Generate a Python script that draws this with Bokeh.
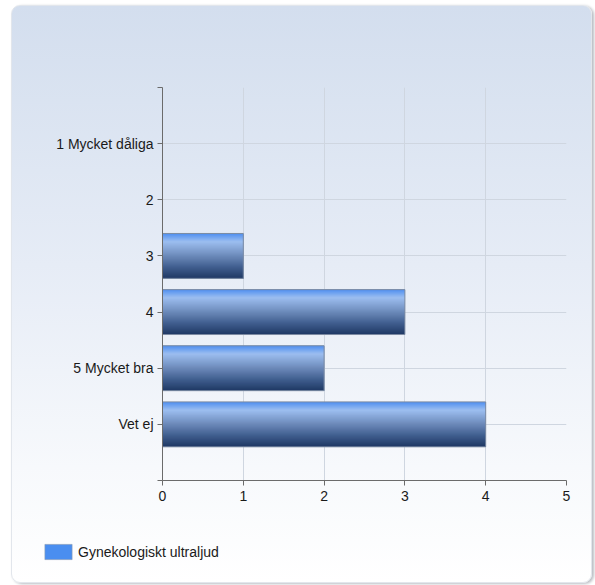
from bokeh.plotting import figure
from bokeh.layouts import column
from bokeh.models import Range1d, FixedTicker, Legend, LegendItem, ColumnDataSource
from bokeh.embed import file_html
from bokeh.resources import INLINE

categories = ["1 Mycket dåliga", "2", "3", "4", "5 Mycket bra", "Vet ej"]
values = [0, 0, 1, 3, 2, 4]
series_name = "Gynekologiskt ultraljud"
x_ticks = [0, 1, 2, 3, 4, 5]

FONT = "Liberation Sans"
FSIZE = "14px"
BAR_H = 0.8

p = figure(width=579, height=514, output_backend="svg", toolbar_location=None,
           x_range=Range1d(0, 5), y_range=Range1d(len(categories) + 1, 0),
           min_border_left=150, min_border_right=25, min_border_top=81, min_border_bottom=40)
p.border_fill_color = None
p.background_fill_color = None
p.outline_line_color = None

ypos = list(range(1, len(categories) + 1))

# base bars (legend renderer)
base_src = ColumnDataSource(dict(y=[y for y, v in zip(ypos, values) if v > 0],
                                 right=[v for v in values if v > 0]))
base = p.hbar(y="y", right="right", left=0, height=BAR_H, source=base_src,
              fill_color="#4a8ef0", line_color=None)

# gradient strips
def lerp(c1, c2, t):
    return tuple(int(round(a + (b - a) * t)) for a, b in zip(c1, c2))

stops = [(0.0, (78, 142, 240)), (0.18, (156, 190, 240)), (0.45, (116, 146, 194)),
         (0.75, (64, 94, 142)), (1.0, (30, 56, 100))]

def grad(t):
    for (t0, c0), (t1, c1) in zip(stops[:-1], stops[1:]):
        if t <= t1:
            return lerp(c0, c1, (t - t0) / (t1 - t0))
    return stops[-1][1]

N = 45
ql, qr, qt, qb, qc = [], [], [], [], []
for y, v in zip(ypos, values):
    if v <= 0:
        continue
    top = y - BAR_H / 2
    bot = y + BAR_H / 2
    step = BAR_H / N
    for i in range(N):
        t = (i + 0.5) / N
        ql.append(0)
        qr.append(v)
        qt.append(top + i * step)
        qb.append(min(bot, top + (i + 2.5) * step))
        r, g, b = grad(t)
        qc.append("#%02x%02x%02x" % (r, g, b))
p.quad(left=ql, right=qr, top=qt, bottom=qb, fill_color=qc, line_color=None)

# outline
p.hbar(y="y", right="right", left=0, height=BAR_H, source=base_src,
       fill_alpha=0, line_color="#7d8ca3", line_width=1)

# axes
p.xaxis.ticker = FixedTicker(ticks=x_ticks)
p.yaxis.ticker = FixedTicker(ticks=list(range(0, len(categories) + 2)))
p.yaxis.major_label_overrides = {0: "", len(categories) + 1: "",
                                 **{y: c for y, c in zip(ypos, categories)}}
for ax in (p.xaxis[0], p.yaxis[0]):
    ax.axis_line_color = "#6b6b6b"
    ax.major_tick_line_color = "#6b6b6b"
    ax.major_tick_out = 5
    ax.major_tick_in = 0
    ax.minor_tick_line_color = None
    ax.major_label_text_font = FONT
    ax.major_label_text_font_size = FSIZE
    ax.major_label_text_color = "#1a1a1a"
p.yaxis.major_label_standoff = 4
p.xaxis.major_label_standoff = 5

p.xgrid.ticker = FixedTicker(ticks=x_ticks)
p.ygrid.ticker = FixedTicker(ticks=list(range(0, len(categories) + 1)))
p.grid.grid_line_color = "#cfd6e0"
p.grid.grid_line_width = 1

# legend strip figure
p2 = figure(width=579, height=62, output_backend="svg", toolbar_location=None,
            x_range=Range1d(100, 101), y_range=Range1d(100, 101),
            min_border_left=0, min_border_right=0, min_border_top=0, min_border_bottom=0)
p2.border_fill_color = None
p2.background_fill_color = None
p2.outline_line_color = None
p2.axis.visible = False
p2.grid.visible = False
leg_r = p2.hbar(y="y", right="right", left=0, height=BAR_H, source=base_src,
                fill_color="#4a8ef0", line_color="#8a9ab0", line_width=0.6)

aligned = "frame_align" in p2.properties()
if aligned:
    p2.frame_align = False
    p.frame_align = False
legend_x = 29 if aligned else 0

legend = Legend(items=[LegendItem(label=series_name, renderers=[leg_r])],
                location=(legend_x, 21), orientation="horizontal",
                label_text_font=FONT, label_text_font_size=FSIZE, label_text_color="#1a1a1a",
                glyph_width=34, glyph_height=19, label_standoff=3,
                background_fill_alpha=0, border_line_color=None,
                margin=0, padding=0)
p2.add_layout(legend)

layout = column(p, p2, spacing=0)
layout.styles = {"background": "linear-gradient(180deg, #d3deee 0%, #e6ecf6 45%, #f7f9fc 80%, #ffffff 100%)",
                 "border-radius": "9px", "border": "1px solid #e2e6ec",
                 "box-shadow": "2px 1px 3px #b8bcc2",
                 "margin-left": "11px", "margin-top": "5px"}

open("out.html", "w").write(file_html(layout, INLINE))
